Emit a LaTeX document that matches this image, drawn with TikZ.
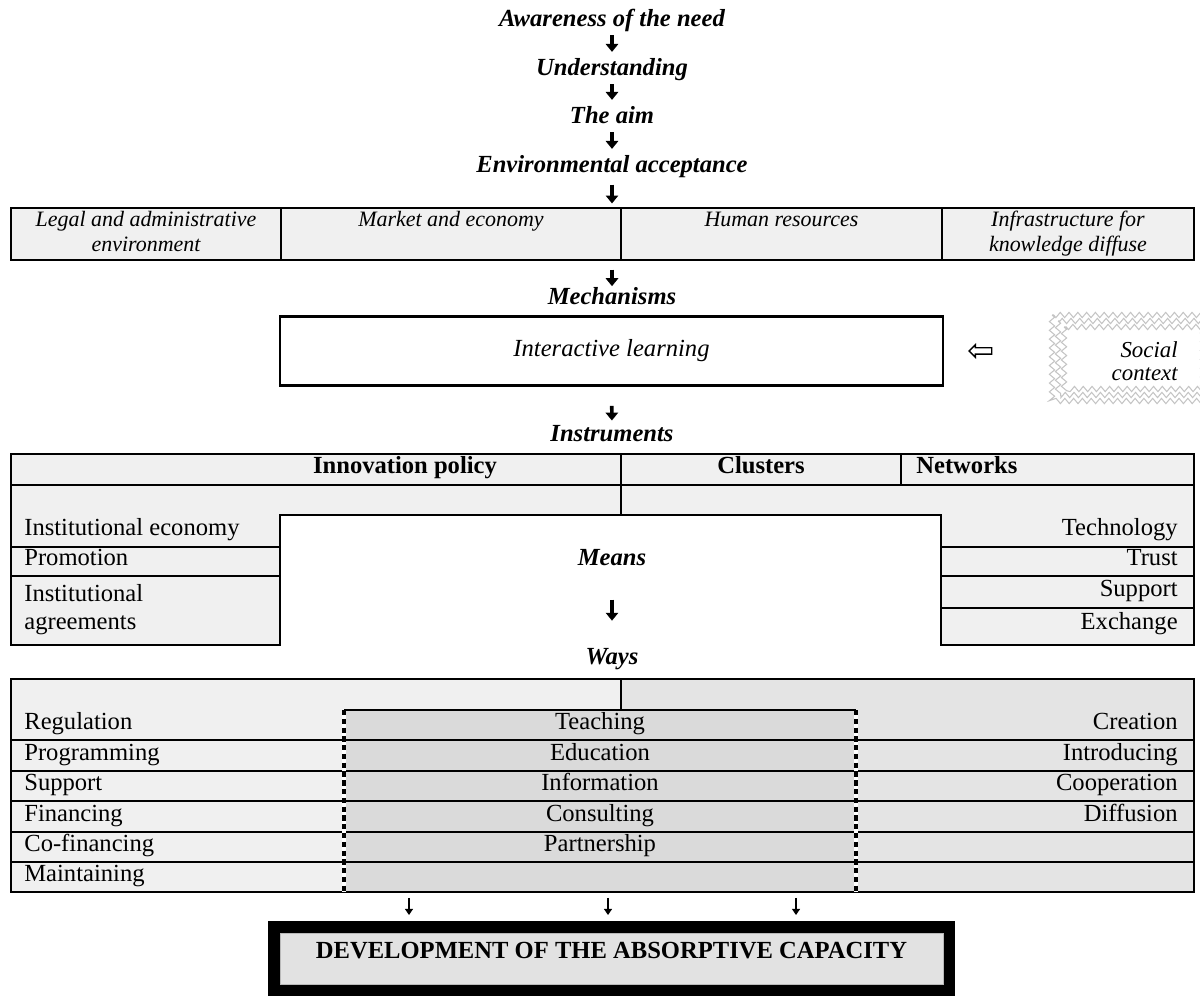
\documentclass[tikz,border=0pt]{standalone}
\usepackage{fontspec}
\setmainfont{Liberation Serif}
\usetikzlibrary{arrows.meta,positioning,calc,shapes.arrows,decorations.pathmorphing}
\definecolor{cellgray}{HTML}{F0F0F0}
\definecolor{sidegray}{HTML}{E4E4E4}
\definecolor{midgray}{HTML}{DADADA}
\definecolor{devgray}{HTML}{E2E2E2}
\definecolor{zigzaggray}{HTML}{C4C4C4}
\tikzset{
  stage/.style={font=\fontsize{14}{16}\selectfont\bfseries\itshape, inner sep=1pt,
                text height=0.7em, text depth=0.25em},
  flow/.style={-{Triangle[length=4.5pt,width=7pt]}, line width=2.1pt},
  drop/.style={-{Triangle[length=3.5pt,width=4.5pt]}, line width=1.4pt},
  envcell/.style={draw, line width=0.9pt, fill=cellgray, inner sep=0pt, outer sep=0pt, align=center,
                  font=\fontsize{12.5}{14.5}\selectfont\itshape, minimum height=1.04cm},
  mechbox/.style={draw, line width=0.8pt, minimum width=13.26cm, minimum height=1.36cm,
                  inner sep=0pt, font=\fontsize{14}{16}\selectfont\itshape},
  item/.style={font=\fontsize{14}{16}\selectfont, inner sep=0pt, text height=0.7em, text depth=0.25em},
  colhead/.style={item, font=\fontsize{14}{16}\selectfont\bfseries},
  tabline/.style={line width=0.8pt},
  dashcol/.style={line width=1.8pt, dash pattern=on 3pt off 2pt},
  zigborder/.style={draw=zigzaggray, line width=0.6pt, decorate,
                    decoration={zigzag, segment length=5pt, amplitude=1.5pt}},
  devbox/.style={draw=black, line width=0.24cm, fill=devgray, minimum width=13.5cm,
                 minimum height=1.26cm, inner sep=0pt, text height=0.62cm, text depth=0.64cm,
                 font=\fontsize{14}{16}\selectfont\bfseries},
}

\begin{document}
\begin{tikzpicture}[x=0.02cm, y=-0.02cm]
  \useasboundingbox (0,0) rectangle (1200,996);

  % ----- Stages -----
  \node[stage] (aware) at (612,23) {Awareness of the need};
  \node[stage] (underst) at (612,72) {Understanding};
  \node[stage] (aim) at (612,120) {The aim};
  \node[stage] (envacc) at (612,169) {Environmental acceptance};

  \draw[flow, shorten <=1pt, shorten >=5.5pt] (aware) -- (underst);
  \draw[flow, shorten <=1pt, shorten >=5.5pt] (underst) -- (aim);
  \draw[flow, shorten <=1pt, shorten >=5.5pt] (aim) -- (envacc);

  % ----- Environment row -----
  \node[envcell, minimum width=5.4cm] (legal) at (146,234) {\strut Legal and administrative\\\strut environment};
  \node[envcell, minimum width=6.8cm] (market) at (451,234) {\strut Market and economy\\\strut};
  \node[envcell, minimum width=6.42cm] (human) at (781.5,234) {\strut Human resources\\\strut};
  \node[envcell, minimum width=5.04cm] (infra) at (1068,234) {\strut Infrastructure for\\\strut knowledge diffuse};

  \draw[flow, shorten <=3pt, shorten >=2.6pt] (envacc) -- (envacc |- market.north);

  % ----- Mechanisms -----
  \node[stage] (mech) at (612,301) {Mechanisms};
  \draw[flow, shorten <=5.5pt, shorten >=2.5pt] (mech |- market.south) -- (mech);

  \node[mechbox] (intlearn) at (611.5,351) {Interactive learning};
  \draw[line width=1.5pt] (intlearn.north west) -- (intlearn.north east)
                          (intlearn.south west) -- (intlearn.south east);

  \node[single arrow, draw, fill=white, line width=0.8pt, inner xsep=0.18cm, inner ysep=0.05cm,
        single arrow head extend=0.06cm, shape border rotate=195] (link) at (982,351) {};

  \draw[zigborder] (1052,315) rectangle (1215,401);
  \draw[zigborder] (1058,321) rectangle (1209,395);
  \draw[zigborder] (1064,327) rectangle (1203,389);
  \node[font=\fontsize{13}{13}\selectfont\itshape, align=right, anchor=east, inner sep=0pt]
    (social) at (1178,361) {Social\\context};

  % ----- Instruments -----
  \node[stage] (instr) at (612,438) {Instruments};
  \draw[flow, shorten <=11.5pt, shorten >=4pt] (intlearn) -- (instr);

  \fill[cellgray] (11,454) -- (1194,454) -- (1194,645) -- (941,645) -- (941,515)
                  -- (280,515) -- (280,645) -- (11,645) -- cycle;
  \draw[tabline] (11,454) -- (1194,454) -- (1194,645) -- (941,645) -- (941,515)
                 -- (280,515) -- (280,645) -- (11,645) -- cycle;
  \draw[tabline] (11,485) -- (1194,485) (621,454) -- (621,515) (901,454) -- (901,485);
  \foreach \y in {547,576} \draw[tabline] (11,\y) -- (280,\y);
  \foreach \y in {547,576,608} \draw[tabline] (941,\y) -- (1194,\y);

  \node[colhead] (innov) at (405,470) {Innovation policy};
  \node[colhead] (clusters) at (761,470) {Clusters};
  \node[colhead, anchor=west] (networks) at (916,470) {Networks};

  \node[item, anchor=west] (ieco) at (24,532) {Institutional economy};
  \node[item, anchor=west] (promo) at (24,562) {Promotion};
  \node[item, anchor=west, align=left, text height=, text depth=] (iagree) at (24,610)
    {Institutional\\agreements};

  \foreach \txt/\y [count=\i] in {Technology/532,Trust/562,Support/593,Exchange/626}
    \node[item, anchor=east] (net\i) at (1178,\y) {\txt};

  % ----- Means and ways -----
  \node[stage] (means) at (612,562) {Means};
  \node[stage] (ways) at (612,661) {Ways};
  \draw[flow, shorten <=15.5pt, shorten >=17pt] (means) -- (ways);

  \fill[cellgray] (11,679) -- (621,679) -- (621,710) -- (344,710) -- (344,892) -- (11,892) -- cycle;
  \fill[sidegray] (621,679) -- (1194,679) -- (1194,892) -- (856,892) -- (856,710) -- (621,710) -- cycle;
  \fill[midgray] (344,710) rectangle (856,892);
  \draw[tabline] (11,679) rectangle (1194,892);
  \draw[tabline] (621,679) -- (621,710) (344,710) -- (856,710);
  \foreach \y in {740,771,801,832,862} \draw[tabline] (11,\y) -- (1194,\y);
  \draw[white, line width=1.8pt] (344,710) -- (344,892) (856,710) -- (856,892);
  \draw[dashcol] (344,710) -- (344,892) (856,710) -- (856,892);

  \foreach \txt [count=\i] in {Regulation,Programming,Support,Financing,Co-financing,Maintaining}
    \node[item, anchor=west] (wl\i) at (24,{726+(\i-1)*30.4}) {\txt};
  \foreach \txt [count=\i] in {Teaching,Education,Information,Consulting,Partnership}
    \node[item] (wm\i) at (600,{726+(\i-1)*30.4}) {\txt};
  \foreach \txt [count=\i] in {Creation,Introducing,Cooperation,Diffusion}
    \node[item, anchor=east] (wr\i) at (1178,{726+(\i-1)*30.4}) {\txt};

  % ----- Result -----
  \node[devbox] (dev) at (611.5,958.5) {DEVELOPMENT OF THE ABSORPTIVE CAPACITY};
  \draw[gray!55, line width=0.5pt] ($(dev.north west)+(12,12)$) rectangle ($(dev.south east)+(-12,-12)$);

  \coordinate (drop1) at (409,892);
  \coordinate (drop2) at (608,892);
  \coordinate (drop3) at (796,892);
  \foreach \k in {1,2,3}
    \draw[drop, shorten <=3.4pt, shorten >=3.4pt] (drop\k) -- (drop\k |- dev.north);

\end{tikzpicture}
\end{document}
